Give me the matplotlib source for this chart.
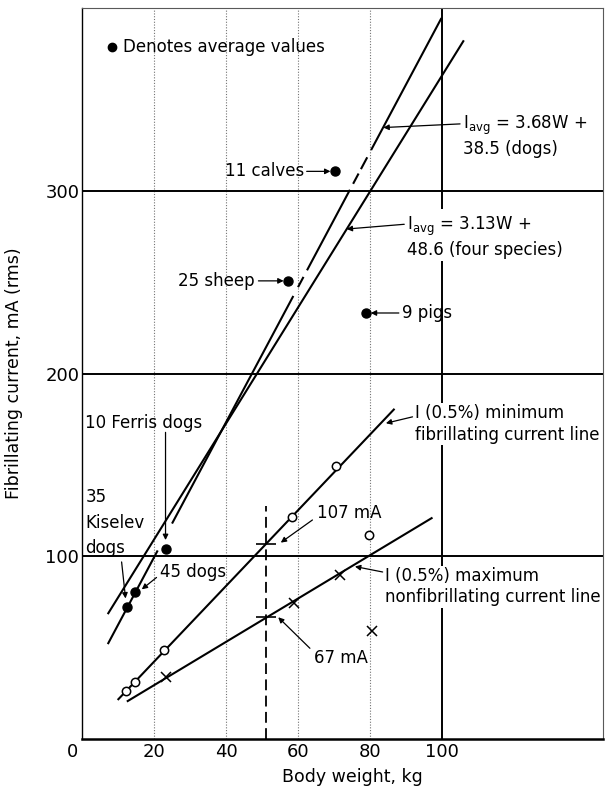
"""Fibrillating current versus body weight, several species."""

import numpy as np
import matplotlib
matplotlib.use('Agg')
import matplotlib.pyplot as plt
import matplotlib.transforms as mtransforms

plt.rcParams['font.family'] = ['DejaVu Sans']
plt.rcParams['mathtext.default'] = 'regular'

#########################################################################################
# Data (body weight in kg, current in mA rms)

avg_labels = ['35 Kiselev dogs', '45 dogs', '10 Ferris dogs', '25 sheep', '11 calves', '9 pigs']
avg_weight = [12.4, 14.7, 23.3, 57.3, 70.3, 78.9]
avg_current = [72.5, 80.8, 104.2, 251.0, 311.0, 233.4]

min_fib_weight = [12.2, 14.7, 22.9, 58.2, 70.6, 79.8]
min_fib_current = [26.5, 31.1, 48.8, 121.5, 149.3, 111.5]

max_nonfib_weight = [23.3, 58.9, 71.7, 80.5]
max_nonfib_current = [34.2, 74.7, 89.9, 59.4]

# fitted lines, end points as drawn
dogs_line_w = [7.3, 99.7]
dogs_line_i = [52.5, 394.5]
species_line_w = [7.3, 105.9]
species_line_i = [68.9, 382.3]
min_line_w = [10.1, 86.6]
min_line_i = [21.8, 180.5]
max_line_w = [12.7, 97.1]
max_line_i = [20.8, 121.0]

# breaks in the dogs line (weight ranges)
dogs_gaps = [(20.9, 25.1), (58.6, 60.1), (61.4, 62.6), (74.3, 75.4), (76.7, 77.6), (79.1, 80.4)]

# 50 kg cut and the two currents read there
cut_weight = 51
cut_currents = [107, 67]
cut_top = 127.7

x_ticks = [0, 20, 40, 60, 80, 100]
y_ticks = [100, 200, 300]

#########################################################################################

fig = plt.figure(figsize=(6.05, 7.93), dpi=100)
ax = fig.add_axes([82 / 605, 54 / 793, 521 / 605, 731 / 793])
ax.set_xlim(0, 144.7)
ax.set_ylim(0, 400.5)

# Grid: light dotted verticals, heavy lines at 100 kg and every 100 mA
for xv in [20, 40, 60, 80]:
    ax.axvline(xv, color='0.45', lw=0.8, ls=(0, (1, 1.5)), zorder=0.5)
ax.axvline(100, color='black', lw=1.4, zorder=0.5)
for yv in y_ticks:
    ax.axhline(yv, color='black', lw=1.4, zorder=0.5)

# Regression lines
ax.plot(species_line_w, species_line_i, color='black', lw=1.5, zorder=2)

w_all = np.linspace(dogs_line_w[0], dogs_line_w[1], 2000)
i_all = np.interp(w_all, dogs_line_w, dogs_line_i)
keep = np.ones_like(w_all, dtype=bool)
for g0, g1 in dogs_gaps:
    keep &= ~((w_all > g0) & (w_all < g1))
ax.plot(w_all, np.where(keep, i_all, np.nan), color='black', lw=1.5, zorder=2)

ax.plot(min_line_w, min_line_i, color='black', lw=1.5, zorder=2)
ax.plot(max_line_w, max_line_i, color='black', lw=1.5, zorder=2)

# Dashed 50 kg cut with tick marks
ax.plot([cut_weight, cut_weight], [0, cut_top], color='black', lw=1.3,
        ls=(0, (6, 3)), zorder=2)
ax.plot([cut_weight] * len(cut_currents), cut_currents, ls='none', marker='_',
        ms=14, mew=1.2, color='black', zorder=2)

# Points
ax.plot(min_fib_weight, min_fib_current, 'o', ms=6, mfc='white', mec='black',
        mew=1.1, zorder=3)
ax.plot(max_nonfib_weight, max_nonfib_current, 'x', ms=6.5, mew=1.1, color='black',
        zorder=3)
ax.plot(avg_weight, avg_current, 'o', ms=6.5, color='black', zorder=3)

# Legend note
ax.plot(8.3, 379, 'o', ms=6, color='black', zorder=3)
ax.text(11.5, 379, 'Denotes average values', fontsize=12, va='center', zorder=3)

ap = dict(arrowstyle='-|>', lw=0.9, color='black', mutation_scale=8,
          shrinkA=0, shrinkB=0)
wbox = dict(facecolor='white', edgecolor='none', pad=1)

# Average value labels
ax.text(1.0, 132.7, avg_labels[0].split()[0], fontsize=12, va='center')
ax.text(1.0, 118.5, avg_labels[0].split()[1], fontsize=12, va='center')
ax.text(1.0, 104.5, avg_labels[0].split()[2], fontsize=12, va='center')
ax.annotate('', xy=(12.1, 77), xytext=(11.0, 97), arrowprops=ap)

ax.text(21.7, 91.7, avg_labels[1], fontsize=12, va='center')
ax.annotate('', xy=(16.6, 82), xytext=(20.7, 88.5), arrowprops=ap)

ax.text(0.8, 173, avg_labels[2], fontsize=12, va='center')
ax.annotate('', xy=(23.2, 109), xytext=(23.2, 168), arrowprops=ap)

ax.text(48.0, 251, avg_labels[3], fontsize=12, va='center', ha='right')
ax.annotate('', xy=(56.0, 251), xytext=(49.0, 251), arrowprops=ap)

ax.text(61.8, 311, avg_labels[4], fontsize=12, va='center', ha='right')
ax.annotate('', xy=(69.0, 311), xytext=(62.4, 311), arrowprops=ap)

ax.text(89.0, 233.4, avg_labels[5], fontsize=12, va='center')
ax.annotate('', xy=(80.2, 233.4), xytext=(88.0, 233.4), arrowprops=ap)

# Regression line labels
ax.text(105.9, 330.5, 'I$_{avg}$ = 3.68W +\n38.5 (dogs)', fontsize=12,
        va='center', linespacing=1.25, zorder=3)
ax.annotate('', xy=(83.7, 335), xytext=(105.0, 337), arrowprops=ap)

ax.text(90.4, 275, 'I$_{avg}$ = 3.13W +\n48.6 (four species)', fontsize=12,
        va='center', linespacing=1.25, bbox=wbox, zorder=3)
ax.annotate('', xy=(73.5, 279.4), xytext=(89.5, 282), arrowprops=ap)

ax.text(92.5, 172.5, 'I (0.5%) minimum\nfibrillating current line', fontsize=12,
        va='center', linespacing=1.25, bbox=wbox, zorder=3)
ax.annotate('', xy=(84.4, 173), xytext=(91.8, 176.5), arrowprops=ap)

ax.text(84.2, 83.5, 'I (0.5%) maximum\nnonfibrillating current line', fontsize=12,
        va='center', linespacing=1.25, bbox=wbox, zorder=3)
ax.annotate('', xy=(75.8, 94.5), xytext=(83.5, 91.5), arrowprops=ap)

# Values at the 50 kg cut
ax.text(65.2, 123.7, '%d mA' % cut_currents[0], fontsize=12, va='center')
ax.annotate('', xy=(55.2, 107.6), xytext=(64.0, 120), arrowprops=ap)
ax.text(64.3, 44.2, '%d mA' % cut_currents[1], fontsize=12, va='center')
ax.annotate('', xy=(54.5, 66.7), xytext=(63.3, 49.7), arrowprops=ap)

# Axes styling
for side in ['top', 'right']:
    ax.spines[side].set_color('0.35')
    ax.spines[side].set_linewidth(0.8)
ax.spines['left'].set_linewidth(1.0)
ax.spines['bottom'].set_linewidth(1.8)

ax.set_xticks(x_ticks)
ax.set_yticks(y_ticks)
ax.tick_params(length=0, labelsize=13, pad=3)
ax.tick_params(axis='y', pad=2)
offset = mtransforms.ScaledTranslation(-6.5 / 72, 0, fig.dpi_scale_trans)
lbl0 = ax.get_xticklabels()[0]
lbl0.set_transform(lbl0.get_transform() + offset)

ax.set_xlabel('Body weight, kg', fontsize=12.5)
ax.xaxis.set_label_coords((352 - 82) / 521, -29 / 731)
ax.set_ylabel('Fibrillating current, mA (rms)', fontsize=12.5)
ax.yaxis.set_label_coords(-(82 - 23) / 521, 0.5)

plt.savefig('out.png', dpi=100)
